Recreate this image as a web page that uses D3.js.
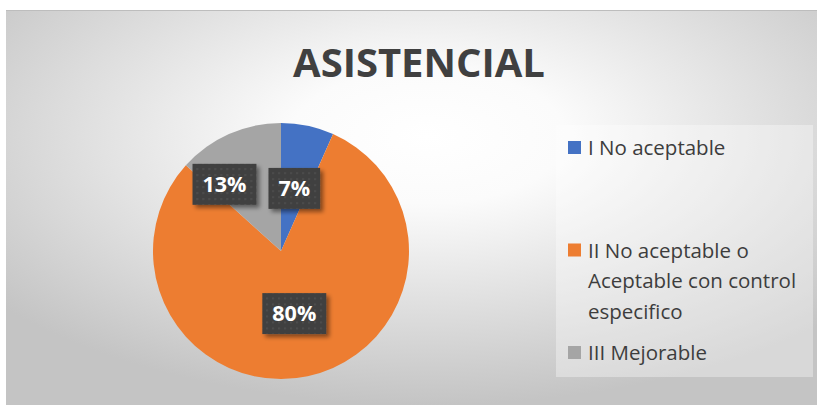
<!DOCTYPE html>
<meta charset="utf-8">
<style>
    body { margin: 0; background: #fff; }
    svg { display: block; }
    .legend text { font-family: "Open Sans", sans-serif; font-size: 20.5px; fill: #3d3d3d; }
    .label text { font-family: "Open Sans", sans-serif; font-weight: bold; font-size: 21.5px; fill: #fff; }
</style>
<body>
<div id="chart"></div>
<script src="https://cdn.jsdelivr.net/npm/d3@7"></script>
<script>
    // data
    var categories = ["I No aceptable", "II No aceptable o Aceptable con control especifico", "III Mejorable"];
    var legendLines = [["I No aceptable"], ["II No aceptable o", "Aceptable con control", "especifico"], ["III Mejorable"]];
    var counts = [1, 12, 2];
    var labels = ["7%", "80%", "13%"];
    var colors = ["#4472C4", "#ED7D31", "#A5A5A5"];
    var title = "ASISTENCIAL";

    var width = 817, height = 405;

    var svg = d3.select("#chart").append("svg")
        .attr("width", width)
        .attr("height", height);

    var defs = svg.append("defs");

    var grad = defs.append("radialGradient")
        .attr("id", "bg")
        .attr("cx", "52%").attr("cy", "32%").attr("r", "68%");
    grad.append("stop").attr("offset", "0%").attr("stop-color", "#ffffff");
    grad.append("stop").attr("offset", "25%").attr("stop-color", "#fbfbfb");
    grad.append("stop").attr("offset", "100%").attr("stop-color", "#c4c4c4");

    var pat = defs.append("pattern")
        .attr("id", "dots")
        .attr("width", 6).attr("height", 6)
        .attr("patternUnits", "userSpaceOnUse");
    pat.append("rect").attr("width", 6).attr("height", 6).attr("fill", "#404040");
    pat.append("rect").attr("x", 2).attr("y", 2).attr("width", 1.5).attr("height", 1.5).attr("fill", "#575757");

    var shadow = defs.append("filter").attr("id", "shadow")
        .attr("x", "-20%").attr("y", "-20%").attr("width", "150%").attr("height", "150%");
    shadow.append("feDropShadow")
        .attr("dx", 3).attr("dy", 3).attr("stdDeviation", 2)
        .attr("flood-color", "#000").attr("flood-opacity", 0.45);

    // chart area
    svg.append("rect")
        .attr("x", 6).attr("y", 10)
        .attr("width", width - 6).attr("height", height - 10)
        .attr("fill", "url(#bg)");
    svg.append("line")
        .attr("x1", 6).attr("x2", width).attr("y1", 10.5).attr("y2", 10.5)
        .attr("stroke", "#bdbdbd");

    svg.append("text")
        .attr("x", 419).attr("y", 77)
        .attr("text-anchor", "middle")
        .style("font-family", "'Open Sans', sans-serif")
        .style("font-weight", "bold")
        .style("font-size", "40px")
        .style("fill", "#404040")
        .text(title);

    // pie
    var cx = 281, cy = 251, radius = 128;
    var pie = d3.pie().sort(null).value(function (d) { return d; });
    var arc = d3.arc().innerRadius(0).outerRadius(radius);
    var labelArc = d3.arc().innerRadius(radius * 0.5).outerRadius(radius * 0.5);
    var arcs = pie(counts);

    var g = svg.append("g").attr("transform", "translate(" + cx + "," + cy + ")");
    g.selectAll("path")
        .data(arcs)
        .enter().append("path")
        .attr("d", arc)
        .attr("fill", function (d, i) { return colors[i]; });

    // data labels
    var padX = 10, boxH = 41, gap = 12;
    var lab = g.selectAll(".label")
        .data(arcs)
        .enter().append("g")
        .attr("class", "label");
    lab.append("rect").attr("fill", "url(#dots)").attr("filter", "url(#shadow)");
    lab.append("text")
        .attr("text-anchor", "middle")
        .attr("dy", "0.36em")
        .text(function (d, i) { return labels[i]; });

    var boxes = [];
    lab.each(function (d, i) {
        var c = labelArc.centroid(d);
        var w = this.querySelector("text").getComputedTextLength() + padX * 2;
        var b = { x: c[0], y: c[1], w: w };
        // push apart if overlapping an earlier label (sideways, nudged outward)
        boxes.forEach(function (o) {
            var overlapY = Math.abs(o.y - b.y) < boxH;
            var overlapX = Math.abs(o.x - b.x) < (o.w + b.w) / 2 + gap;
            if (overlapX && overlapY) {
                var dir = b.x < o.x ? -1 : 1;
                b.x = o.x + dir * ((o.w + b.w) / 2 + gap);
                b.y += (b.y < 0 ? -1 : 1) * boxH / 5;
            }
        });
        boxes.push(b);
        d3.select(this).attr("transform", "translate(" + b.x + "," + b.y + ")");
        d3.select(this).select("rect")
            .attr("x", -w / 2).attr("y", -boxH / 2)
            .attr("width", w).attr("height", boxH);
    });

    // legend
    var legend = svg.append("g").attr("class", "legend");
    legend.append("rect")
        .attr("x", 556).attr("y", 125)
        .attr("width", 257).attr("height", 252)
        .attr("fill", "#ffffff").attr("fill-opacity", 0.35);

    var ly = d3.scalePoint().domain(d3.range(categories.length)).range([155, 360]);
    var item = legend.selectAll(".item")
        .data(categories)
        .enter().append("g")
        .attr("class", "item")
        .attr("transform", function (d, i) { return "translate(568," + ly(i) + ")"; });
    item.append("rect")
        .attr("y", -14).attr("width", 13).attr("height", 13)
        .attr("fill", function (d, i) { return colors[i]; });
    item.append("text")
        .attr("x", 20)
        .selectAll("tspan")
        .data(function (d, i) { return legendLines[i]; })
        .enter().append("tspan")
        .attr("x", 20)
        .attr("y", function (d, j) { return j * 30.5; })
        .text(function (d) { return d; });
</script>
</body>
